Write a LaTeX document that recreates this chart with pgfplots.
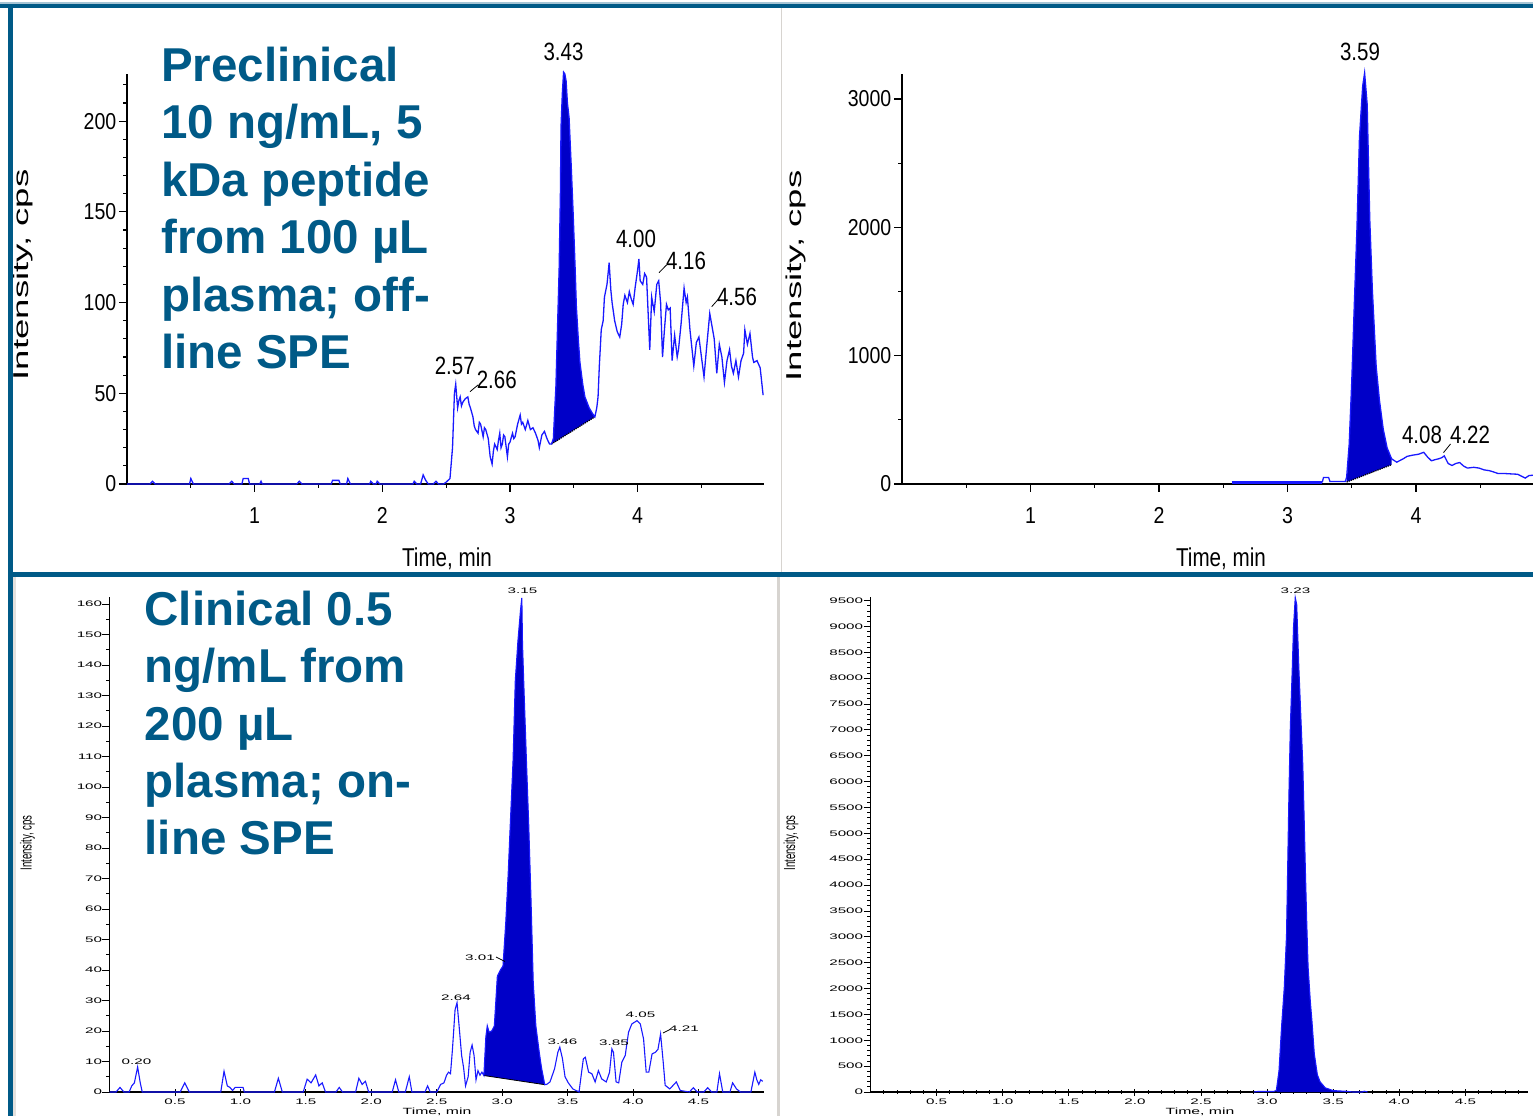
\documentclass[border=0pt]{standalone}
\usepackage{fontspec}
\setmainfont{Liberation Sans}
\usepackage{pgfplots}
\pgfplotsset{compat=1.18}
\definecolor{frameblue}{RGB}{0,90,135}
\definecolor{titleblue}{RGB}{0,90,135}
\definecolor{traceblue}{RGB}{25,25,255}
\definecolor{peakfill}{RGB}{0,0,200}
\definecolor{divgrey}{RGB}{215,212,208}
\newcommand{\titlef}{\fontsize{47.5}{57.4}\selectfont\bfseries}
\newcommand{\pkA}{\fontsize{25}{25}\selectfont}
\newcommand{\pkB}{\fontsize{8}{8}\selectfont}
\pgfplotsset{
  chromA/.style={anchor=south west, scale only axis, axis lines=left,
    axis line style={-, line width=1.8pt, black},
    tick align=outside, major tick length=8pt, minor tick length=4pt,
    tick style={black, line width=1.2pt},
    tick label style={font=\fontsize{23}{23}\selectfont, xscale=0.85, inner sep=0pt},
    xticklabel style={yshift=-15pt}, yticklabel style={xshift=-3pt},
    /pgf/number format/assume math mode=true, /pgf/number format/1000 sep={},
    clip=false},
  chromB/.style={anchor=south west, scale only axis, axis lines=left,
    axis line style={-, line width=1.3pt, black},
    tick align=outside, xtick align=center, major tick length=7pt, minor tick length=3.5pt,
    tick style={black, line width=0.9pt},
    tick label style={font=\fontsize{8}{8}\selectfont, xscale=1.9, inner sep=0pt},
    xticklabel style={yshift=-3pt},
    /pgf/number format/assume math mode=true, /pgf/number format/1000 sep={},
    clip=false},
}
\begin{document}
\begin{tikzpicture}[x=1pt,y=1pt]
\useasboundingbox (0,0) rectangle (1533,1116);
\clip (0,0) rectangle (1533,1116);
\fill[white] (0,0) rectangle (1533,1116);

% ---------------- Panel 1 (top left)
\begin{axis}[chromA, at={(127pt,632pt)}, width=637pt, height=410pt,
  xmin=0, xmax=4.99, ymin=0, ymax=226,
  xtick={1,2,3,4}, minor xtick={0.5,1.5,2.5,3.5,4.5},
  ytick={0,50,100,150,200}, minor ytick={10,20,30,40,60,70,80,90,110,120,130,140,160,170,180,190,210,220}]
\addplot[fill=peakfill, draw=none] coordinates {
(3.325,22)(3.34,25)(3.35,40)(3.36,54)(3.37,80)(3.385,118)(3.395,160)(3.40,197)(3.41,215)(3.42,227)(3.43,226)(3.44,222)(3.45,210)(3.463,202)(3.48,175)(3.495,149)(3.51,120)(3.52,98)(3.535,80)(3.548,67)(3.57,55)(3.587,48)(3.62,42)(3.645,39)(3.665,37)} -- cycle;
\addplot[black, densely dotted, line width=1.2pt] coordinates {(3.325,22)(3.665,37)};
\addplot[traceblue, line width=1.3pt, mark=none] coordinates {
(0.00,0)(0.18,0)(0.20,1.5)(0.22,0)(0.49,0)(0.5,3)(0.52,0)(0.80,0)(0.82,1.5)(0.84,0)(0.90,0)(0.91,3)(0.95,3)(0.96,0)(1.04,0)(1.05,1.5)(1.06,0)(1.33,0)(1.35,1.5)(1.37,0)(1.60,0)(1.61,2)(1.66,2)(1.67,0)(1.72,0)(1.73,3)(1.75,0)(1.90,0)(1.91,1.5)(1.93,0)(1.95,0)(1.96,1.5)(1.98,0)(2.24,0)(2.25,1.5)(2.27,0)(2.30,0)(2.32,5)(2.34,2)(2.36,0)(2.40,0)(2.42,1.5)(2.44,0)(2.48,0)(2.50,1)(2.53,3)(2.55,20)(2.565,50)(2.575,55)(2.59,42)(2.60,46)(2.61,48)(2.62,43)(2.63,45)(2.65,47)(2.67,48)(2.68,44)(2.69,42)(2.71,37)(2.72,32)(2.73,30)(2.75,28)(2.76,34)(2.77,33)(2.79,26)(2.80,31)(2.81,30)(2.83,25)(2.845,15)(2.86,11)(2.87,18)(2.88,22)(2.90,19)(2.91,24)(2.92,28)(2.93,20)(2.94,22)(2.95,27)(2.96,26)(2.98,15)(2.99,22)(3.00,23)(3.02,28)(3.03,25)(3.04,26)(3.06,33)(3.08,38)(3.09,33)(3.10,34)(3.12,30)(3.14,35)(3.16,30)(3.18,31)(3.20,28)(3.22,24)(3.23,20)(3.25,27)(3.27,29)(3.29,25)(3.31,22)(3.325,22)
(3.34,25)(3.35,40)(3.36,54)(3.37,80)(3.385,118)(3.395,160)(3.40,197)(3.41,215)(3.42,227)(3.43,226)(3.44,222)(3.45,210)(3.463,202)(3.48,175)(3.495,149)(3.51,120)(3.52,98)(3.535,80)(3.548,67)(3.57,55)(3.587,48)(3.62,42)(3.645,39)(3.665,37)
(3.68,42)(3.69,48)(3.70,65)(3.715,85)(3.73,90)(3.74,103)(3.76,110)(3.777,122)(3.79,107)(3.80,100)(3.82,90)(3.84,84)(3.86,81)(3.875,88)(3.887,99)(3.90,104)(3.92,100)(3.935,106)(3.95,102)(3.965,99)(3.98,108)(4.00,118)(4.01,124)(4.02,112)(4.04,110)(4.055,116)(4.07,114)(4.08,98)(4.095,74)(4.11,103)(4.13,95)(4.15,110)(4.165,112)(4.18,100)(4.195,70)(4.21,85)(4.226,99)(4.24,96)(4.255,97)(4.27,68)(4.29,82)(4.31,70)(4.32,74)(4.34,88)(4.364,108)(4.38,100)(4.39,103)(4.41,85)(4.425,75)(4.44,65)(4.46,78)(4.48,81)(4.50,70)(4.52,59)(4.54,75)(4.565,94)(4.58,88)(4.60,80)(4.62,61)(4.64,77)(4.66,70)(4.68,56)(4.70,68)(4.72,74)(4.735,65)(4.75,61)(4.77,68)(4.79,59)(4.81,68)(4.83,72)(4.84,85)(4.86,77)(4.88,83)(4.90,70)(4.91,67)(4.935,68)(4.96,64)(4.983,49)};
\end{axis}

% ---------------- Panel 2 (top right)
\begin{axis}[chromA, at={(902pt,632pt)}, width=642.5pt, height=410pt,
  xmin=0, xmax=5.0, ymin=0, ymax=3195,
  xtick={1,2,3,4}, minor xtick={0.5,1.5,2.5,3.5,4.5},
  ytick={0,1000,2000,3000}, minor ytick={500,1500,2500}]
\addplot[fill=peakfill, draw=none] coordinates {
(3.46,15)(3.48,310)(3.50,800)(3.52,1404)(3.54,1980)(3.56,2700)(3.585,3100)(3.60,3203)(3.62,2958)(3.64,2066)(3.66,1519)(3.69,915)(3.715,656)(3.745,426)(3.775,282)(3.81,196)(3.81,150)} -- cycle;
\addplot[black, densely dotted, line width=1.2pt] coordinates {(3.46,15)(3.81,150)};
\addplot[traceblue, line width=3.5pt] coordinates {(2.565,12)(3.27,12)};
\addplot[traceblue, line width=1.3pt, mark=none] coordinates {
(3.27,12)(3.28,50)(3.32,50)(3.33,20)(3.45,20)(3.46,52)(3.48,310)(3.50,800)(3.52,1404)(3.54,1980)(3.56,2700)(3.585,3100)(3.60,3203)(3.62,2958)(3.64,2066)(3.66,1519)(3.69,915)(3.715,656)(3.745,426)(3.775,282)(3.81,196)(3.85,170)(3.90,196)(3.93,215)(3.97,224)(4.02,232)(4.06,247)(4.09,210)(4.12,181)(4.15,190)(4.175,196)(4.20,205)(4.22,219)(4.25,160)(4.28,144)(4.31,160)(4.34,167)(4.37,140)(4.40,124)(4.45,130)(4.49,124)(4.53,110)(4.57,104)(4.60,95)(4.64,81)(4.70,81)(4.75,78)(4.79,76)(4.85,46)(4.88,66)(4.94,70)(5.0,65)};
\end{axis}

% ---------------- Panel 3 (bottom left)
\begin{axis}[chromB, at={(109.5pt,24pt)}, width=654.5pt, height=495pt,
  xmin=0, xmax=5.0, ymin=0, ymax=162.3,
  xtick={0.5,1,1.5,2,2.5,3,3.5,4,4.5}, xticklabels={0.5,1.0,1.5,2.0,2.5,3.0,3.5,4.0,4.5},
  ytick={0,10,...,160}, minor ytick={5,15,...,155}]
\addplot[fill=peakfill, draw=none] coordinates {
(2.86,5.4)(2.875,18)(2.886,21.7)(2.90,19.6)(2.92,20)(2.94,21.7)(2.963,38)(2.986,40)(3.006,41.3)(3.027,55.4)(3.045,70.7)(3.063,89)(3.083,108.7)(3.10,134.8)(3.12,147.8)(3.14,158)(3.15,162)(3.155,147)(3.165,133.7)(3.185,108.7)(3.203,87)(3.22,63)(3.237,36)(3.257,21.7)(3.283,13)(3.30,8)(3.325,2.4)} -- cycle;
\addplot[black, line width=0.8pt] coordinates {(2.86,5.4)(3.325,2.4)};
\addplot[traceblue, line width=1.1pt, mark=none] coordinates {
(0.0,0)(0.05,0)(0.08,1.5)(0.11,0)(0.15,0)(0.17,2)(0.19,3)(0.215,8.2)(0.235,3)(0.25,0)(0.54,0)(0.575,3)(0.61,0)(0.85,0)(0.875,6.8)(0.90,2)(0.92,1.5)(0.94,0.5)(0.96,1.5)(1.02,1.5)(1.03,0)(1.26,0)(1.29,4.5)(1.32,0)(1.48,0)(1.51,4.2)(1.54,3)(1.575,5.6)(1.60,2)(1.625,3)(1.65,0)(1.73,0)(1.755,1.5)(1.78,0)(1.88,0)(1.905,4.5)(1.93,2.5)(1.955,3.5)(1.98,0)(2.16,0)(2.185,4)(2.21,0)(2.26,0)(2.29,5)(2.31,0)(2.41,0)(2.43,2)(2.45,0)(2.50,0)(2.53,2.5)(2.555,3)(2.575,5.5)(2.59,6.5)(2.605,6)(2.62,14)(2.64,27)(2.655,29.3)(2.67,22)(2.69,12)(2.705,8)(2.72,2)(2.74,5)(2.755,13)(2.77,15.4)(2.785,12)(2.80,4)(2.815,7)(2.83,5.5)(2.845,6.5)(2.86,5.4)
(2.875,18)(2.886,21.7)(2.90,19.6)(2.92,20)(2.94,21.7)(2.963,38)(2.986,40)(3.006,41.3)(3.027,55.4)(3.045,70.7)(3.063,89)(3.083,108.7)(3.10,134.8)(3.12,147.8)(3.14,158)(3.15,162)(3.155,147)(3.165,133.7)(3.185,108.7)(3.203,87)(3.22,63)(3.237,36)(3.257,21.7)(3.283,13)(3.30,8)(3.325,2.4)
(3.34,2.5)(3.365,3.3)(3.40,7.6)(3.425,13)(3.44,14.7)(3.46,11)(3.48,5)(3.505,3)(3.54,1)(3.587,0)(3.605,6)(3.62,10.9)(3.635,11.4)(3.66,6.5)(3.685,6)(3.71,3.3)(3.735,7)(3.76,4.3)(3.795,3.3)(3.82,6.5)(3.838,14.1)(3.85,13)(3.87,3.3)(3.89,3)(3.914,9.8)(3.94,12)(3.965,19.6)(3.99,22.3)(4.03,23.4)(4.055,22.3)(4.08,17.4)(4.10,6.5)(4.12,6.5)(4.145,12.5)(4.17,13)(4.19,14)(4.21,19)(4.23,9.8)(4.245,2.2)(4.28,1)(4.33,3.3)(4.36,0.5)(4.43,0)(4.46,1.4)(4.49,0)(4.54,0)(4.57,1.4)(4.60,0)(4.64,0)(4.66,6)(4.685,0)(4.74,0)(4.76,3)(4.79,1)(4.82,0)(4.90,0)(4.93,6.5)(4.945,4)(4.96,2.5)(4.975,4)(4.99,3.5)};
\end{axis}

% ---------------- Panel 4 (bottom right)
\begin{axis}[chromB, at={(870.5pt,24pt)}, width=657pt, height=495pt,
  xmin=0, xmax=4.97, ymin=0, ymax=9570,
  xtick={0.5,1,1.5,2,2.5,3,3.5,4,4.5}, xticklabels={0.5,1.0,1.5,2.0,2.5,3.0,3.5,4.0,4.5},
  minor xtick={0.1,0.2,...,4.9},
  ytick={0,500,...,9500}, minor ytick={100,200,...,9500}]
\addplot[fill=peakfill, draw=none] coordinates {
(3.07,0)(3.07,30)(3.09,404)(3.11,1279)(3.13,2019)(3.147,3029)(3.165,5720)(3.176,7067)(3.19,8143)(3.20,8985)(3.213,9557)(3.224,9422)(3.24,8210)(3.254,7336)(3.27,6326)(3.28,5317)(3.29,4240)(3.30,3264)(3.31,2423)(3.327,1750)(3.34,1346)(3.357,740)(3.38,336)(3.40,200)(3.44,80)(3.50,27)(3.6,13)(3.6,0)} -- cycle;
\addplot[traceblue, line width=1.1pt, mark=none] coordinates {
(2.9,0)(2.93,10)(3.05,10)(3.07,30)(3.09,404)(3.11,1279)(3.13,2019)(3.147,3029)(3.165,5720)(3.176,7067)(3.19,8143)(3.20,8985)(3.213,9557)(3.224,9422)(3.24,8210)(3.254,7336)(3.27,6326)(3.28,5317)(3.29,4240)(3.30,3264)(3.31,2423)(3.327,1750)(3.34,1346)(3.357,740)(3.38,336)(3.40,200)(3.44,80)(3.50,27)(3.6,13)(3.65,0)(3.72,0)(3.735,15)(3.76,0)};
\end{axis}

% ---------------- axis labels
\node[rotate=90, xscale=1.7, font=\fontsize{21.5}{21.5}\selectfont] at (23,841) {Intensity, cps};
\node[rotate=90, xscale=1.7, font=\fontsize{21.5}{21.5}\selectfont] at (796,840) {Intensity, cps};
\node[rotate=90, xscale=0.6, font=\fontsize{16}{16}\selectfont] at (27.5,273) {Intensity, cps};
\node[rotate=90, xscale=0.6, font=\fontsize{16}{16}\selectfont] at (791,273) {Intensity, cps};
\node[anchor=base, xscale=0.8, inner sep=0pt, font=\fontsize{25.8}{25.8}\selectfont] at (447,549.3) {Time, min};
\node[anchor=base, xscale=0.8, inner sep=0pt, font=\fontsize{25.8}{25.8}\selectfont] at (1221,549.3) {Time, min};
\node[anchor=base, xscale=1.75, inner sep=0pt, font=\fontsize{9}{9}\selectfont] at (437,1.5) {Time, min};
\node[anchor=base, xscale=1.75, inner sep=0pt, font=\fontsize{9}{9}\selectfont] at (1200,1.5) {Time, min};

% ---------------- peak labels
\begin{scope}[every node/.style={inner sep=0pt, xscale=0.82, font=\pkA}]
\node at (563.5,1064.3) {3.43};
\node at (636,877.5) {4.00};
\node at (686,855) {4.16};
\node at (737,819.5) {4.56};
\node at (454.7,750.5) {2.57};
\node at (496.7,736.5) {2.66};
\node at (1360,1064) {3.59};
\node at (1422,681) {4.08};
\node at (1470,681) {4.22};
\end{scope}
\begin{scope}[black, line width=0.8pt]
\draw (659,843.3) -- (666.5,851);
\draw (711.7,809.3) -- (718.5,817);
\draw (470,724.3) -- (478,731);
\draw (1443.5,663.4) -- (1450.5,672);
\draw (496,159) -- (505,154.5);
\draw (663,83) -- (670,86.5);
\end{scope}
\begin{scope}[every node/.style={inner sep=0pt, xscale=1.9, font=\pkB}]
\node at (522.5,525) {3.15};
\node at (480,158.6) {3.01};
\node at (456,118) {2.64};
\node at (562.5,74) {3.46};
\node at (614,73) {3.85};
\node at (640.5,101.3) {4.05};
\node at (684,87.5) {4.21};
\node at (136.5,54.4) {0.20};
\node at (1295.5,525) {3.23};
\end{scope}

% ---------------- titles
\begin{scope}[every node/.style={anchor=base west, inner sep=0pt, text=titleblue, font=\titlef}]
\node at (161,1034.5) {Preclinical};
\node at (161,977.1) {10 ng/mL, 5};
\node at (161,919.7) {kDa peptide};
\node at (161,862.3) {from 100 µL};
\node at (161,804.9) {plasma; off-};
\node at (161,747.5) {line SPE};
\node at (144.5,490.3) {Clinical 0.5};
\node at (144.5,433) {ng/mL from};
\node at (144.5,375.7) {200 µL};
\node at (144.5,318.4) {plasma; on-};
\node at (144.5,261.1) {line SPE};
\end{scope}

% ---------------- frame
\fill[divgrey] (780.5,544.3) rectangle (782.2,1107.5);
\fill[divgrey] (777,0) rectangle (779.5,539.3);
\fill[divgrey!70] (12.7,0) rectangle (15.5,539.3);
\fill[frameblue!35] (0,1112) rectangle (1533,1114);
\fill[frameblue] (0,1107.5) rectangle (1533,1112);
\fill[frameblue] (8.3,0) rectangle (12.7,1112);
\fill[frameblue] (8.3,539.3) rectangle (1533,544.3);
\end{tikzpicture}
\end{document}
